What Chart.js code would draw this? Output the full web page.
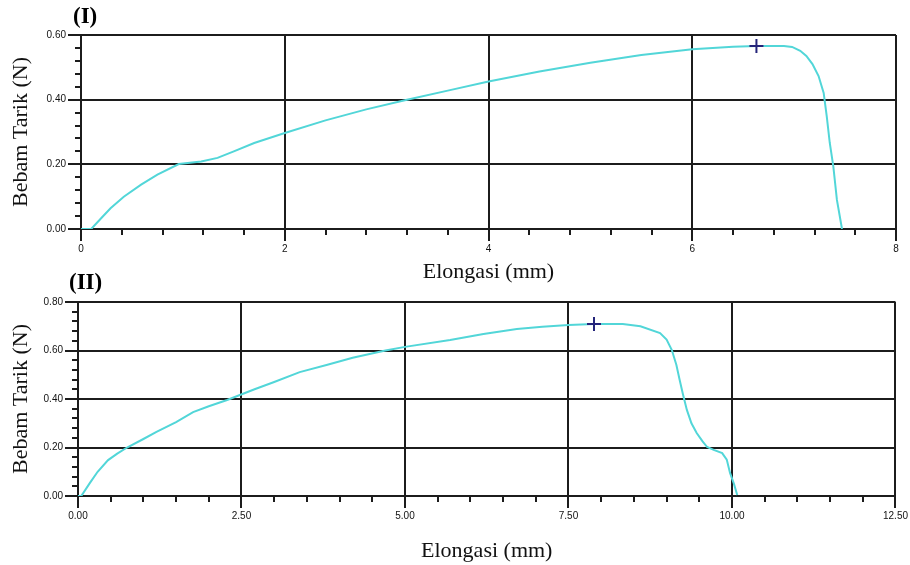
<!DOCTYPE html>
<html>
<head>
<meta charset="utf-8">
<script src="https://cdn.jsdelivr.net/npm/chart.js@4/dist/chart.umd.min.js"></script>
<style>
  body { margin: 0; background: #fff; }
  #wrap { position: relative; width: 910px; height: 565px; overflow: hidden; }
  canvas { position: absolute; left: 0; }
  .panel { position: absolute; font-family: "Liberation Serif", serif; font-weight: bold; font-size: 23px; color: #000; }
</style>
</head>
<body>
<div id="wrap">
  <canvas id="c1" width="910" height="285" style="top:0"></canvas>
  <canvas id="c2" width="910" height="280" style="top:285px"></canvas>
  <div class="panel" style="left:73px; top:3px;">(I)</div>
  <div class="panel" style="left:69px; top:269px;">(II)</div>
</div>
<script>
// (I) elongasi (mm) vs beban tarik (N)
var elongI = [0, 0.1, 0.2, 0.29, 0.42, 0.59, 0.75, 0.96, 1.18, 1.34, 1.5, 1.7, 2.0, 2.4, 2.8, 3.2, 3.6, 4.0, 4.5, 5.0, 5.5, 6.0, 6.4, 6.63, 6.9, 6.98, 7.06, 7.12, 7.18, 7.24, 7.29, 7.32, 7.35, 7.385, 7.42, 7.47];
var bebanI = [0, 0, 0.034, 0.064, 0.1, 0.137, 0.168, 0.201, 0.209, 0.22, 0.24, 0.266, 0.297, 0.336, 0.37, 0.4, 0.428, 0.456, 0.487, 0.514, 0.538, 0.556, 0.564, 0.566, 0.566, 0.563, 0.551, 0.535, 0.51, 0.473, 0.421, 0.349, 0.266, 0.193, 0.09, 0];
var maxI = [6.63, 0.566];

// (II)
var elongII = [0, 0.05, 0.18, 0.3, 0.46, 0.6, 0.75, 1.0, 1.2, 1.5, 1.76, 2.0, 2.28, 2.7, 3.0, 3.39, 3.8, 4.2, 4.7, 5.0, 5.69, 6.2, 6.71, 7.1, 7.5, 7.89, 8.33, 8.6, 8.9, 9.0, 9.08, 9.15, 9.2, 9.25, 9.31, 9.38, 9.46, 9.55, 9.62, 9.72, 9.85, 9.92, 9.97, 10.03, 10.08];
var bebanII = [0, 0, 0.053, 0.1, 0.148, 0.175, 0.2, 0.235, 0.264, 0.305, 0.346, 0.37, 0.396, 0.44, 0.47, 0.511, 0.54, 0.57, 0.6, 0.615, 0.643, 0.668, 0.689, 0.698, 0.705, 0.709, 0.709, 0.7, 0.672, 0.645, 0.602, 0.54, 0.478, 0.42, 0.355, 0.3, 0.26, 0.225, 0.202, 0.19, 0.177, 0.15, 0.095, 0.05, 0.004];
var maxII = [7.89, 0.709];

var titleX = 'Elongasi (mm)';
var titleY = 'Bebam Tarik (N)';

function pts(xs, ys) {
  var out = [];
  for (var i = 0; i < xs.length; i++) out.push({x: xs[i], y: ys[i]});
  return out;
}

// minor tick marks outside the axes
var minorTicks = {
  id: 'minorTicks',
  afterDraw: function(chart, args, opts) {
    var ctx = chart.ctx;
    var xs = chart.scales.x, ys = chart.scales.y;
    ctx.save();
    ctx.strokeStyle = '#1c1c1c';
    ctx.lineWidth = 2;
    ctx.beginPath();
    var n = Math.round((xs.max - xs.min) / opts.x);
    for (var i = 0; i <= n; i++) {
      if (i % 5 === 0) continue;
      var px = Math.round(xs.getPixelForValue(xs.min + i * opts.x));
      ctx.moveTo(px, xs.top);
      ctx.lineTo(px, xs.top + 6);
    }
    n = Math.round((ys.max - ys.min) / opts.y);
    for (var j = 0; j <= n; j++) {
      if (j % 5 === 0) continue;
      var py = Math.round(ys.getPixelForValue(ys.min + j * opts.y));
      ctx.moveTo(ys.right - 6, py);
      ctx.lineTo(ys.right, py);
    }
    ctx.stroke();
    ctx.restore();
  }
};

function makeChart(id, xs, ys, mark, cfg) {
  return new Chart(document.getElementById(id), {
    type: 'scatter',
    data: {
      datasets: [{
        data: [{x: mark[0], y: mark[1]}],
        pointStyle: 'cross',
        pointRadius: 7,
        borderColor: '#24247a',
        borderWidth: 2,
        order: 0
      }, {
        data: pts(xs, ys),
        showLine: true,
        borderColor: '#52d6d8',
        borderWidth: 2,
        pointRadius: 0,
        tension: 0,
        order: 1
      }]
    },
    options: {
      responsive: false,
      animation: false,
      layout: {padding: {top: cfg.top, right: 14, left: 0, bottom: 0}},
      plugins: {
        legend: {display: false},
        tooltip: {enabled: false},
        minorTicks: {x: cfg.xMinor, y: cfg.yMinor}
      },
      scales: {
        x: {
          type: 'linear',
          min: 0, max: cfg.xMax,
          afterFit: function(s) { s.height = cfg.xH; },
          border: {color: '#1c1c1c', width: 2},
          grid: {color: '#1c1c1c', lineWidth: 2, tickLength: 12, tickColor: '#1c1c1c'},
          ticks: {
            stepSize: cfg.xStep, padding: 2, color: '#111', maxRotation: 0,
            font: {family: 'Liberation Sans', size: 10},
            callback: function(v) { return v.toFixed(cfg.xDec); }
          },
          title: {display: true, text: titleX, color: '#111', padding: {top: 0, bottom: cfg.xPad},
                  font: {family: 'Liberation Serif', size: 22}}
        },
        y: {
          type: 'linear',
          min: 0, max: cfg.yMax,
          afterFit: function(s) { s.width = cfg.yW; },
          border: {color: '#1c1c1c', width: 2},
          grid: {color: '#1c1c1c', lineWidth: 2, tickLength: 13, tickColor: '#1c1c1c'},
          ticks: {
            stepSize: 0.2, padding: 2, color: '#111',
            font: {family: 'Liberation Sans', size: 10},
            callback: function(v) { return v.toFixed(2); }
          },
          title: {display: true, text: titleY, color: '#111', padding: {top: 8, bottom: 0},
                  font: {family: 'Liberation Serif', size: 22}}
        }
      }
    },
    plugins: [minorTicks]
  });
}

makeChart('c1', elongI, bebanI, maxI, {top: 35, xMax: 8, xStep: 2, xDec: 0, xMinor: 0.4, yMax: 0.6, yMinor: 0.04, xH: 56, yW: 81, xPad: 0});
makeChart('c2', elongII, bebanII, maxII, {top: 17, xMax: 12.5, xStep: 2.5, xDec: 2, xMinor: 0.5, yMax: 0.8, yMinor: 0.04, xH: 69, yW: 78, xPad: 1});
</script>
</body>
</html>
